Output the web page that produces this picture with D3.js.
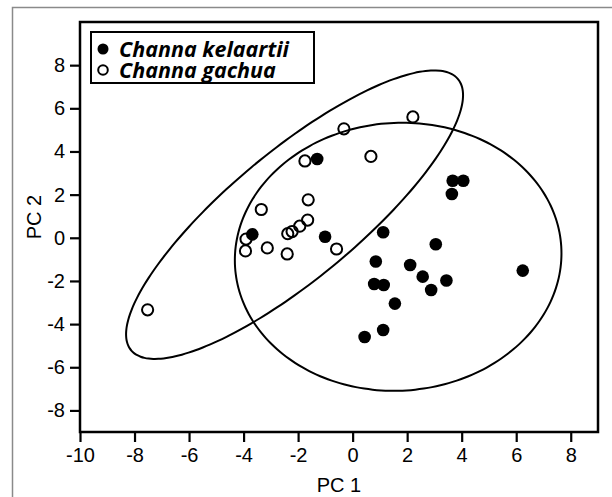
<!DOCTYPE html>
<html>
<head>
<meta charset="utf-8">
<script src="https://cdn.jsdelivr.net/npm/d3@7"></script>
<style>
body { margin: 0; background: #fff; }
svg { display: block; }
.tick text { font-family: "Liberation Sans", Arial, sans-serif; font-size: 20px; fill: #000; }
.axisTitle { font-family: "Liberation Sans", Arial, sans-serif; font-size: 20px; fill: #000; }
.legendText { font-family: "Open Sans", Lato, sans-serif; font-weight: bold; font-style: italic; font-size: 21.5px; fill: #000; }
</style>
</head>
<body>
<svg id="chart"></svg>
<script>
var width = 612;
var height = 497;
var plotLeft = 80, plotRight = 598, plotTop = 22, plotBottom = 432;

var xDomain = [-10, 9];
var yDomain = [-9, 10];
var xTicks = [-10, -8, -6, -4, -2, 0, 2, 4, 6, 8];
var yTicks = [-8, -6, -4, -2, 0, 2, 4, 6, 8];

var speciesNames = ["Channa kelaartii", "Channa gachua"];

// PC1, PC2 scores
var kelaartii = [
	[-1.30, 3.65], [3.67, 2.64], [4.06, 2.64], [3.64, 2.03], [-3.68, 0.16],
	[-1.01, 0.05], [1.12, 0.26], [3.05, -0.30], [0.85, -1.10], [2.11, -1.26],
	[6.24, -1.52], [2.57, -1.80], [0.79, -2.14], [1.14, -2.19], [3.44, -1.98],
	[2.88, -2.42], [1.55, -3.05], [1.12, -4.27], [0.44, -4.60]
];
var gachua = [
	[2.21, 5.60], [-0.32, 5.05], [0.67, 3.77], [-1.75, 3.56], [-1.63, 1.76],
	[-3.35, 1.31], [-1.65, 0.82], [-1.94, 0.54], [-2.22, 0.29], [-2.38, 0.19],
	[-3.91, -0.06], [-3.93, -0.61], [-3.13, -0.47], [-2.40, -0.75], [-0.59, -0.52],
	[-7.52, -3.34]
];

// ellipses: centre, then two conjugate half-diameters (PC units)
var ellipseKelaartii = [1.67, -0.88, 5.99, 0.16, 0.0, 6.21];
var ellipseGachua = [-2.13, 1.07, 6.18, 5.54, 0.0, -3.74];

var svg = d3.select("#chart")
.attr("width", width)
.attr("height", height);

var x = d3.scaleLinear().domain(xDomain).range([plotLeft, plotRight]);
var y = d3.scaleLinear().domain(yDomain).range([plotBottom, plotTop]);

// grey page border (top and left only)
svg.append("path")
.attr("d", "M12.5 " + height + " L12.5 7.5 L" + width + " 7.5")
.attr("fill", "none")
.attr("stroke", "#8a8a8a")
.attr("stroke-width", 1.5);

var plain = function(d) { return String(d); };
var xAxis = d3.axisBottom(x).tickValues(xTicks).tickFormat(plain)
.tickSize(10).tickPadding(6).tickSizeOuter(0);
var yAxis = d3.axisLeft(y).tickValues(yTicks).tickFormat(plain)
.tickSize(10).tickPadding(5).tickSizeOuter(0);

var gx = svg.append("g")
.attr("transform", "translate(0," + plotBottom + ")")
.call(xAxis);
var gy = svg.append("g")
.attr("transform", "translate(" + plotLeft + ",0)")
.call(yAxis);
gx.select(".domain").remove();
gy.select(".domain").remove();
svg.selectAll(".tick line").attr("stroke", "#000").attr("stroke-width", 2.2);

svg.append("text")
.attr("class", "axisTitle")
.attr("x", (plotLeft + plotRight) / 2)
.attr("y", 492)
.attr("text-anchor", "middle")
.text("PC 1");

svg.append("text")
.attr("class", "axisTitle")
.attr("transform", "translate(41," + 217 + ") rotate(-90)")
.attr("text-anchor", "middle")
.text("PC 2");

// points
svg.append("g").selectAll("circle").data(gachua)
.enter().append("circle")
.attr("cx", function(d) { return x(d[0]); })
.attr("cy", function(d) { return y(d[1]); })
.attr("r", 5.6)
.attr("fill", "none")
.attr("stroke", "#000")
.attr("stroke-width", 2);

svg.append("g").selectAll("circle").data(kelaartii)
.enter().append("circle")
.attr("cx", function(d) { return x(d[0]); })
.attr("cy", function(d) { return y(d[1]); })
.attr("r", 6.3)
.attr("fill", "#000");

function ellipsePath(e) {
	var pts = d3.range(0, 360, 3).map(function(a) {
		var t = a * Math.PI / 180;
		return [x(e[0] + e[2] * Math.cos(t) + e[4] * Math.sin(t)),
				y(e[1] + e[3] * Math.cos(t) + e[5] * Math.sin(t))];
	});
	return d3.line().curve(d3.curveCardinalClosed)(pts);
}

svg.selectAll("path.ellipse").data([ellipseKelaartii, ellipseGachua])
.enter().append("path")
.attr("class", "ellipse")
.attr("d", ellipsePath)
.attr("fill", "none")
.attr("stroke", "#000")
.attr("stroke-width", 2);

// plot frame
svg.append("rect")
.attr("x", plotLeft)
.attr("y", plotTop)
.attr("width", plotRight - plotLeft)
.attr("height", plotBottom - plotTop)
.attr("fill", "none")
.attr("stroke", "#000")
.attr("stroke-width", 2.5);

// legend
var legend = svg.append("g").attr("id", "legend");
legend.append("rect")
.attr("x", 91)
.attr("y", 32)
.attr("width", 223)
.attr("height", 51)
.attr("fill", "#fff")
.attr("stroke", "#000")
.attr("stroke-width", 2);

var rows = legend.selectAll("g.row").data(speciesNames)
.enter().append("g")
.attr("class", "row")
.attr("transform", function(d, i) { return "translate(0," + (i * 21) + ")"; });
rows.append("circle")
.attr("cx", 103)
.attr("cy", 49)
.attr("r", function(d, i) { return i == 0 ? 5.5 : 4.8; })
.attr("fill", function(d, i) { return i == 0 ? "#000" : "none"; })
.attr("stroke", function(d, i) { return i == 0 ? "none" : "#000"; })
.attr("stroke-width", 2);
rows.append("text")
.attr("class", "legendText")
.attr("x", 119)
.attr("y", 56.5)
.text(function(d) { return d; });
</script>
</body>
</html>
